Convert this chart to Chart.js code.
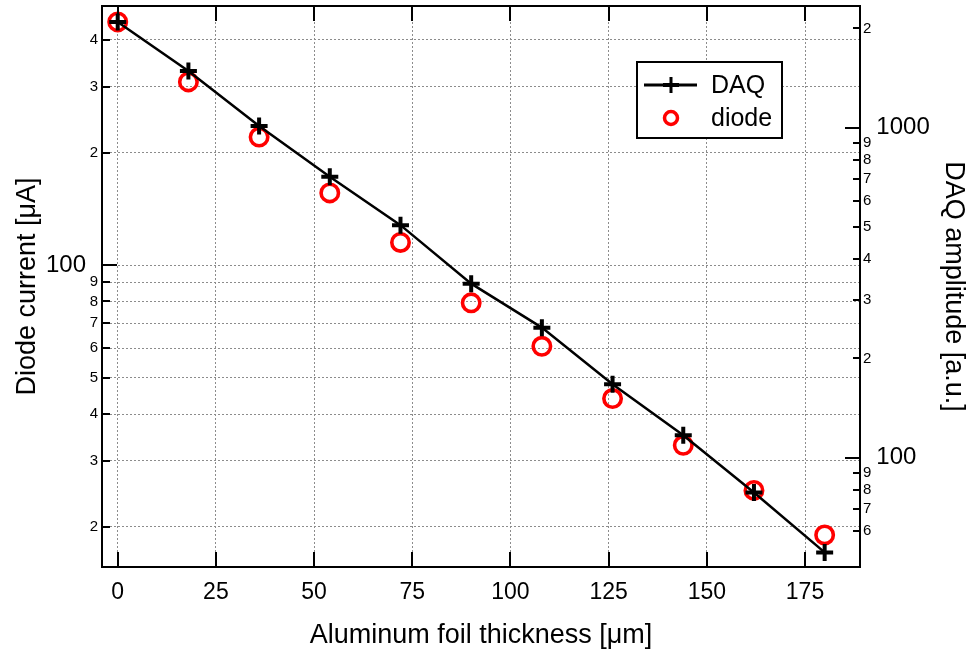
<!DOCTYPE html>
<html>
<head>
<meta charset="utf-8">
<script src="https://cdn.jsdelivr.net/npm/chart.js@4.4.0/dist/chart.umd.min.js"></script>
<style>
  html, body { margin: 0; padding: 0; background: #fff; }
</style>
</head>
<body>
<canvas id="chart" width="970" height="657"></canvas>
<script>
'use strict'
// foil thickness (um)
const thickness = [0, 18, 36, 54, 72, 90, 108, 126, 144, 162, 180]
// DAQ amplitude, right axis
const daqAmplitude = [2090, 1485, 1012, 710, 507, 337, 248, 167, 117, 78.5, 51.7]
// diode current, left axis
const diodeCurrent = [447, 309, 220, 156, 115, 79.3, 60.7, 44, 33, 25, 19]

// ticks
const xTicks = [0, 25, 50, 75, 100, 125, 150, 175]
const leftTicks = [20, 30, 40, 50, 60, 70, 80, 90, 100, 200, 300, 400]
const leftLabels = ['2', '3', '4', '5', '6', '7', '8', '9', '100\u2002', '2', '3', '4']
const rightTicks = [60, 70, 80, 90, 100, 200, 300, 400, 500, 600, 700, 800, 900, 1000, 2000]
const rightLabels = ['6', '7', '8', '9', '  100', '2', '3', '4', '5', '6', '7', '8', '9', '  1000', '2']
const majorTicks = [100, 1000]

const FONT = 'Liberation Sans'
Chart.defaults.font.family = FONT
Chart.defaults.color = '#000'

const gridColor = '#8c8c8c'
const toPoints = (ys) => thickness.map((x, i) => ({ x: x, y: ys[i] }))
const isMajor = (ctx) => ctx.tick && majorTicks.includes(ctx.tick.value)

// ticks inside the frame + frame + legend
const decorations = {
    id: 'decorations',
    afterDatasetsDraw(chart) {
        const { ctx, chartArea: a, scales } = chart
        ctx.save()
        ctx.strokeStyle = '#000'
        ctx.lineWidth = 2
        ctx.beginPath()
        xTicks.forEach(v => {
            const px = Math.round(scales.x.getPixelForValue(v))
            ctx.moveTo(px, a.bottom); ctx.lineTo(px, a.bottom - 15)
            ctx.moveTo(px, a.top); ctx.lineTo(px, a.top + 15)
        })
        leftTicks.forEach(v => {
            const py = Math.round(scales.y.getPixelForValue(v))
            const len = majorTicks.includes(v) ? 15 : 8
            ctx.moveTo(a.left, py); ctx.lineTo(a.left + len, py)
        })
        rightTicks.forEach(v => {
            const py = Math.round(scales.y1.getPixelForValue(v))
            const len = majorTicks.includes(v) ? 15 : 7
            ctx.moveTo(a.right, py); ctx.lineTo(a.right - len, py)
        })
        ctx.stroke()
        ctx.strokeRect(a.left, a.top, a.right - a.left, a.bottom - a.top)
        ctx.restore()
    },
    afterDraw(chart) {
        const { ctx, chartArea: a } = chart
        const sets = chart.data.datasets
        const bx = a.right - 223, by = a.top + 56, bw = 145, bh = 76
        ctx.save()
        ctx.fillStyle = '#fff'
        ctx.fillRect(bx, by, bw, bh)
        ctx.strokeStyle = '#000'
        ctx.lineWidth = 2
        ctx.strokeRect(bx, by, bw, bh)
        // DAQ row
        const r1 = by + 23, mx = bx + 34
        ctx.lineWidth = 3
        ctx.strokeStyle = sets[0].borderColor
        ctx.beginPath()
        ctx.moveTo(bx + 7, r1); ctx.lineTo(bx + 60, r1)
        ctx.moveTo(mx, r1 - 8); ctx.lineTo(mx, r1 + 8)
        ctx.stroke()
        ctx.lineWidth = 4
        ctx.beginPath()
        ctx.moveTo(mx - 8, r1); ctx.lineTo(mx + 8, r1)
        ctx.stroke()
        // diode row
        const r2 = by + 56
        ctx.strokeStyle = sets[1].borderColor
        ctx.lineWidth = 3.5
        ctx.beginPath()
        ctx.arc(mx, r2, 6.5, 0, Math.PI * 2)
        ctx.stroke()
        ctx.fillStyle = '#000'
        ctx.font = '25px "' + FONT + '"'
        ctx.textBaseline = 'middle'
        ctx.fillText(sets[0].label, bx + 74, r1 + 1)
        ctx.fillText(sets[1].label, bx + 74, r2 + 1)
        ctx.restore()
    }
}

function createChart() {
    const ctx = document.getElementById('chart').getContext('2d')
    new Chart(ctx, {
        type: 'line',
        data: {
            datasets: [{
                label: 'DAQ',
                data: toPoints(daqAmplitude),
                yAxisID: 'y1',
                borderColor: '#000',
                backgroundColor: '#000',
                borderWidth: 2.5,
                pointStyle: 'cross',
                pointRadius: 8.5,
                pointBorderWidth: 4,
                pointBorderColor: '#000',
                tension: 0
            }, {
                label: 'diode',
                data: toPoints(diodeCurrent),
                yAxisID: 'y',
                showLine: false,
                borderColor: '#ff0000',
                backgroundColor: 'rgba(0,0,0,0)',
                pointStyle: 'circle',
                pointRadius: 8.7,
                pointBorderWidth: 3.6,
                pointBorderColor: '#ff0000',
                pointBackgroundColor: 'rgba(0,0,0,0)'
            }]
        },
        options: {
            responsive: false,
            animation: false,
            devicePixelRatio: 1,
            layout: { autoPadding: false, padding: { top: 6, left: 0, right: 0, bottom: 0 } },
            plugins: { legend: { display: false }, tooltip: { enabled: false } },
            scales: {
                x: {
                    type: 'linear',
                    min: -4,
                    max: 189,
                    afterBuildTicks: s => { s.ticks = xTicks.map(v => ({ value: v })) },
                    afterFit: s => { s.height = 90; s.paddingLeft = 0; s.paddingRight = 0 },
                    grid: { color: gridColor, lineWidth: 1, drawTicks: false },
                    border: { display: false, dash: [2, 2] },
                    ticks: { autoSkip: false, maxRotation: 0, padding: 12, font: { size: 23 } },
                    title: { display: true, text: 'Aluminum foil thickness [μm]', font: { size: 27 }, padding: { top: 0, bottom: 5 } }
                },
                y: {
                    type: 'logarithmic',
                    position: 'left',
                    min: 15.6,
                    max: 493,
                    afterBuildTicks: s => { s.ticks = leftTicks.map(v => ({ value: v })) },
                    afterFit: s => { s.width = 102; s.paddingTop = 0; s.paddingBottom = 0 },
                    grid: { color: gridColor, lineWidth: 1, drawTicks: false },
                    border: { display: false, dash: [2, 2] },
                    ticks: {
                        autoSkip: false,
                        padding: 4,
                        callback: (v) => leftLabels[leftTicks.indexOf(v)],
                        font: ctx => ({ family: FONT, size: isMajor(ctx) ? 24 : 15 })
                    },
                    title: { display: true, text: 'Diode current [μA]', font: { size: 27 }, padding: { top: 11, bottom: 0 } }
                },
                y1: {
                    type: 'logarithmic',
                    position: 'right',
                    min: 46.7,
                    max: 2338,
                    afterBuildTicks: s => { s.ticks = rightTicks.map(v => ({ value: v })) },
                    afterFit: s => { s.width = 110; s.paddingTop = 0; s.paddingBottom = 0 },
                    grid: { display: false, drawTicks: false },
                    border: { display: false },
                    ticks: {
                        autoSkip: false,
                        padding: 3,
                        callback: (v) => rightLabels[rightTicks.indexOf(v)],
                        font: ctx => ({ family: FONT, size: isMajor(ctx) ? 24 : 15 })
                    },
                    title: { display: true, text: 'DAQ amplitude [a.u.]', font: { size: 27 }, padding: { top: 0, bottom: 0 } }
                }
            }
        },
        plugins: [decorations]
    })
}

createChart()
</script>
</body>
</html>
